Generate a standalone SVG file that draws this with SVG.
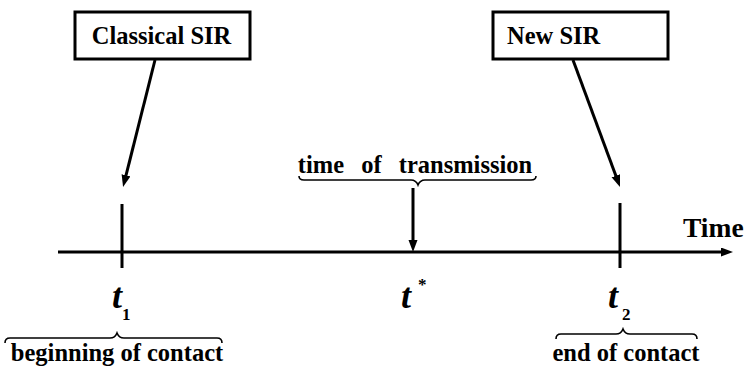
<svg xmlns="http://www.w3.org/2000/svg" width="745" height="367" viewBox="0 0 745 367">
<style>
text{font-family:'Liberation Serif','DejaVu Serif','Times New Roman',serif;font-weight:bold;fill:#000}
.lbl{font-size:24.5px}
.tv{font-size:36px;font-style:italic}
.sub{font-size:17px}
.box{fill:#fff;stroke:#000;stroke-width:3}
.ln{stroke:#000;stroke-width:3;fill:none}
.br{stroke:#000;stroke-width:1.6;fill:none}
</style>
<defs>
<marker id="ah" markerUnits="userSpaceOnUse" markerWidth="14" markerHeight="10" refX="2" refY="4.5" orient="auto">
<path d="M0,0 L12,4.5 L0,9 z" fill="#000"/>
</marker>
</defs>
<g id="connectors">
<line class="ln" x1="58" y1="252" x2="723" y2="252" marker-end="url(#ah)"/>
<line class="ln" x1="155" y1="60" x2="125.5" y2="177.3" marker-end="url(#ah)"/>
<line class="ln" x1="573" y1="60" x2="616.5" y2="177.6" marker-end="url(#ah)"/>
<line class="ln" x1="413" y1="188" x2="413" y2="242" marker-end="url(#ah)"/>
<line class="ln" x1="122" y1="204" x2="122" y2="268"/>
<line class="ln" x1="620" y1="203" x2="620" y2="268"/>
</g>
<g id="classical">
<rect class="box" x="75" y="12" width="175" height="47"/>
<text class="lbl" font-family="Liberation Serif, serif" x="161.5" y="44" text-anchor="middle">Classical SIR</text>
</g>
<g id="newsir">
<rect class="box" x="493" y="12" width="175" height="47"/>
<text class="lbl" x="507" y="44">New SIR</text>
</g>
<g id="time-label">
<text x="683" y="237" style="font-size:27.5px">Time</text>
</g>
<g id="transmission">
<text class="lbl" x="415" y="173" text-anchor="middle" word-spacing="11">time of transmission</text>
<path class="br" d="M299,176 q0,4 5,4 L411,180 q5,0 7,5 q2,-5 7,-5 L531,180 q5,0 5,-4"/>
</g>
<g id="t1">
<text class="tv" x="112" y="308">t</text>
<text class="sub" x="122" y="320">1</text>
</g>
<g id="tstar">
<text class="tv" x="401" y="308">t</text>
<text class="sub" x="418" y="290">*</text>
</g>
<g id="t2">
<text class="tv" x="608" y="308">t</text>
<text class="sub" x="622" y="320">2</text>
</g>
<g id="begin">
<path class="br" d="M5,343 q0,-5 5,-5 L110,338 q5,0 7,-5 q2,5 7,5 L217,338 q5,0 5,5"/>
<text class="lbl" x="117" y="361" text-anchor="middle">beginning of contact</text>
</g>
<g id="end">
<path class="br" d="M556,339 q0,-5 5,-5 L616,334 q5,0 7,-5 q2,5 7,5 L692,334 q5,0 5,5"/>
<text class="lbl" x="626" y="361" text-anchor="middle">end of contact</text>
</g>
</svg>
